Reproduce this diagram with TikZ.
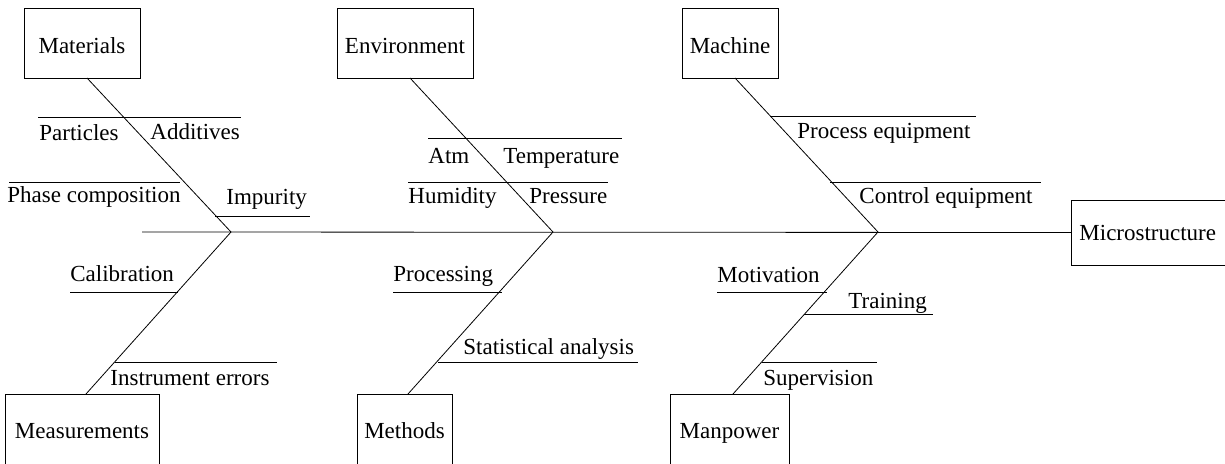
\documentclass[tikz,border=0pt]{standalone}
\usepackage{fontspec}
\setmainfont{Liberation Serif}
\begin{document}
\begin{tikzpicture}[x=1pt,y=-1pt,line width=0.8pt,
  txt/.style={font=\fontsize{23}{27}\selectfont},
  box/.style={draw,txt,inner sep=0pt},
  topbox/.style={box,minimum height=70pt,text height=25pt,text depth=5pt},
  botbox/.style={box,minimum height=72pt,text height=21pt,text depth=5pt},
  lbl/.style={txt,anchor=base west,inner sep=0pt},
  bone/.style={draw,line width=0.8pt}]
\useasboundingbox (0,0) rectangle (1225,463);
% category boxes
\node[topbox,minimum width=116pt] (mat) at (82,43) {Materials};
\node[topbox,minimum width=136pt] (env) at (405,43) {Environment};
\node[topbox,minimum width=96pt] (mac) at (730,43) {Machine};
\node[botbox,minimum width=154pt] (mea) at (82,430) {Measurements};
\node[botbox,minimum width=95pt] (met) at (404.5,430) {Methods};
\node[botbox,minimum width=119pt] (man) at (729.5,430) {Manpower};
\node[box,anchor=west,minimum height=65pt,text height=20pt,text depth=5pt,text width=150pt,align=left,inner xsep=8pt] (mic) at (1071,232.5) {Microstructure};
% spine
\coordinate (tail) at (142,232);
\coordinate (j1) at (231,232);
\coordinate (j2) at (553,232);
\coordinate (j3) at (878,232);
\draw[bone] (tail) -- (mic.west);
% main bones
\coordinate (matb) at (87,78);
\coordinate (envb) at (410,78);
\coordinate (macb) at (735,78);
\coordinate (meab) at (86,394);
\coordinate (metb) at (408,394);
\coordinate (manb) at (733,394);
\draw[bone] (matb) -- (j1);
\draw[bone] (envb) -- (j2);
\draw[bone] (macb) -- (j3);
\draw[bone] (meab) -- (j1);
\draw[bone] (metb) -- (j2);
\draw[bone] (manb) -- (j3);
% sub-bones
\foreach \n/\xa/\xb/\yy in {
  s1/38/241/117, s2/9/180/182, s3/215/310/216,
  s4/428/622/138, s5/408/608/182,
  s6/770/976/116, s7/830/1041/182,
  s8/70/178/292, s9/115/277/362,
  s10/393/502/292, s11/438/638/362,
  s12/717/827/292, s13/804/933/314, s14/762/877/362}{
  \coordinate (\n a) at (\xa,\yy);
  \coordinate (\n b) at (\xb,\yy);
  \draw[bone] (\n a) -- (\n b);
}
% labels
\node[lbl] (l1) at (39,140) {Particles};
\node[lbl] (l2) at (150,139) {Additives};
\node[lbl] (l3) at (7,202) {Phase composition};
\node[lbl] (l4) at (226,204) {Impurity};
\node[lbl] (l5) at (428,163) {Atm};
\node[lbl] (l6) at (503,163) {Temperature};
\node[lbl] (l7) at (408,203) {Humidity};
\node[lbl] (l8) at (529,203) {Pressure};
\node[lbl] (l9) at (797,138) {Process equipment};
\node[lbl] (l10) at (859,203) {Control equipment};
\node[lbl] (l11) at (70,281) {Calibration};
\node[lbl] (l12) at (110,385) {Instrument errors};
\node[lbl] (l13) at (393,281) {Processing};
\node[lbl] (l14) at (463,354) {Statistical analysis};
\node[lbl] (l15) at (717,282) {Motivation};
\node[lbl] (l16) at (848,308) {Training};
\node[lbl] (l17) at (763,385) {Supervision};
\end{tikzpicture}
\end{document}
